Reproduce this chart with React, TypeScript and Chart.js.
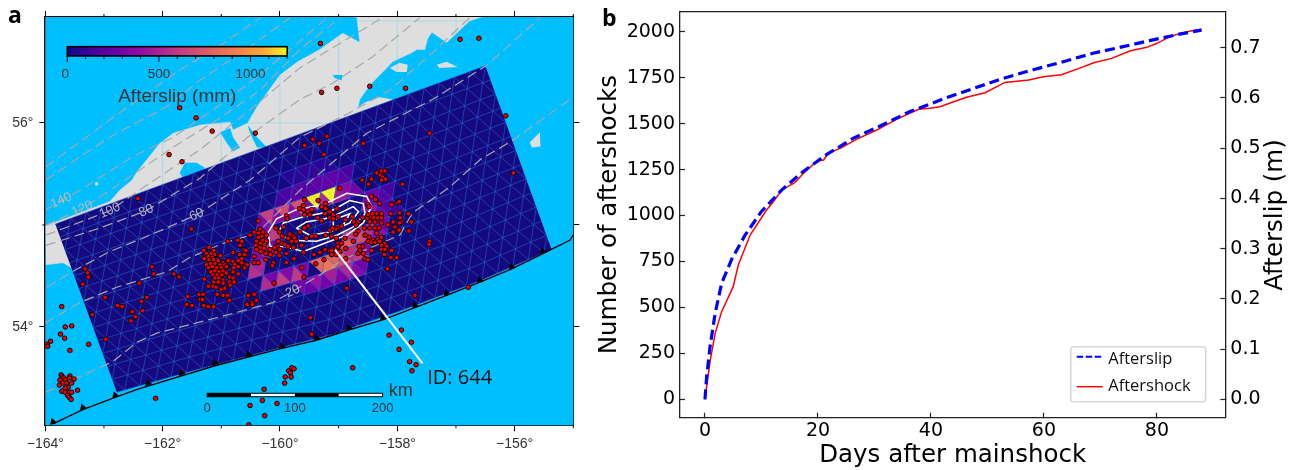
import React, { useEffect, useRef } from "react";
import { Chart, registerables } from "chart.js";

Chart.register(...registerables);

// ---------- Panel b data ----------
const afterslipDays = [0, 0.3, 0.9, 1.8, 2.95, 4.7, 7.1, 10, 13.6, 17.4, 21.5, 26.3, 31, 36.3, 43.4, 52.8, 58.1, 63.4, 68.7, 74, 78.7, 84, 87.9];
const afterslipMeters = [0, 0.045, 0.105, 0.171, 0.231, 0.278, 0.327, 0.374, 0.417, 0.4535, 0.487, 0.52, 0.544, 0.573, 0.603, 0.639, 0.656, 0.672, 0.689, 0.702, 0.714, 0.727, 0.735];
const aftershockDays = [0, 0.3, 0.9, 1.8, 2.95, 5, 5.9, 8, 10.9, 12.1, 13.6, 15.9, 17.4, 19.8, 21, 21.8, 24.2, 26.8, 30.4, 33.9, 37.8, 39.8, 41.6, 43.4, 46.3, 49.6, 53.1, 57.3, 59.9, 63.1, 66.7, 68.8, 72, 75.2, 78.2, 80, 82.3, 84.1, 86.2, 87.9];
const aftershockCounts = [0, 70, 205, 359, 477, 613, 731, 894, 1030, 1075, 1139, 1179, 1229, 1296, 1302, 1338, 1369, 1414, 1465, 1523, 1578, 1583, 1592, 1612, 1643, 1668, 1724, 1737, 1755, 1766, 1806, 1831, 1855, 1895, 1915, 1937, 1973, 1991, 2005, 2013];
const dayTicks = [0, 20, 40, 60, 80];
const countTicks = [0, 250, 500, 750, 1000, 1250, 1500, 1750, 2000];
const slipTicks = [0, 0.1, 0.2, 0.3, 0.4, 0.5, 0.6, 0.7];

// ---------- Panel a: axes ----------
const lonMajor = [-164, -162, -160, -158, -156];
const lonMinor = [-163, -161, -159, -157, -155];
const latLabelled = [54, 56];
const latAll = [54, 55, 56];
const graticuleLons = [-163, -162, -161, -160, -159, -158, -157, -156];
const graticuleLats = [54, 55, 56, 57];

// ---------- Panel a: coast (lon, lat) ----------
const land = [[-164, 54.99], [-162.9, 55.23], [-162.73, 55.34], [-162.52, 55.44], [-162.44, 55.52], [-162.27, 55.64], [-162.05, 55.8], [-161.82, 55.9], [-161.36, 55.98], [-160.85, 56.01], [-160.8, 55.93], [-160.55, 56], [-160.39, 56.16], [-160, 56.47], [-159.7, 56.6], [-159.32, 56.72], [-158.93, 56.88], [-158.64, 56.79], [-158.69, 57.04], [-156.56, 57.04], [-156.77, 57], [-156.88, 56.94], [-156.99, 56.88], [-157.16, 56.79], [-157.41, 56.89], [-157.48, 56.83], [-157.53, 56.72], [-157.67, 56.72], [-157.75, 56.69], [-158.08, 56.6], [-158.18, 56.54], [-158.3, 56.47], [-158.47, 56.37], [-158.64, 56.23], [-158.67, 56.15], [-158.55, 56.2], [-158.3, 56.25], [-158.09, 56.23], [-159.66, 55.25], [-163.55, 54.58], [-163.7, 54.63], [-163.99, 54.61], [-164, 54.61]];
const islandE = [[-155.74, 55.81], [-155.57, 55.91], [-155.56, 55.77], [-155.71, 55.76]];
const islandF = [[-157.33, 56.57], [-157.16, 56.6], [-156.97, 56.55], [-157.28, 56.54]];
const islandG = [[-158.13, 56.54], [-157.96, 56.59], [-157.82, 56.57], [-157.84, 56.5], [-158.01, 56.5]];
const islandH = [[-163.15, 55.42], [-163.1, 55.42], [-163.1, 55.39], [-163.15, 55.39]];
const lakeA = [[-161.71, 55.51], [-161.62, 55.61], [-161.42, 55.61], [-161.28, 55.56], [-161.33, 55.51], [-161.65, 55.46]];
const bayB = [[-161.02, 55.91], [-160.85, 55.95], [-160.8, 55.86], [-160.68, 55.76], [-160.8, 55.72], [-160.9, 55.8]];
const bayC = [[-160.55, 55.98], [-160.39, 55.86], [-160.22, 55.76], [-160.39, 55.76], [-160.51, 55.9]];
const bayD = [[-159.1, 56.47], [-158.93, 56.47], [-158.95, 56.42], [-159.07, 56.44]];

// ---------- Panel a: slab depth contours ----------
const depthLine180 = [[-163.99, 55.57], [-162.78, 56.08], [-161.76, 56.5], [-161.02, 56.76], [-160.34, 57.03]];
const depthLine160 = [[-163.99, 55.44], [-163.41, 55.67], [-162.78, 55.9], [-161.93, 56.16], [-161.36, 56.42], [-160.51, 56.75], [-159.83, 57.03]];
const depthLine140 = [[-163.99, 55.15], [-163.73, 55.24], [-163.41, 55.34], [-162.51, 55.67], [-161.82, 55.86], [-161.14, 56.13], [-160.34, 56.47], [-159.2, 57.03]];
const depthLine120 = [[-163.99, 55], [-163.37, 55.16], [-162.64, 55.44], [-161.88, 55.74], [-161.02, 56.05], [-160.34, 56.32], [-159.66, 56.72], [-158.98, 57.03]];
const depthLine100 = [[-163.99, 54.9], [-162.9, 55.14], [-162.22, 55.41], [-161.36, 55.74], [-160.51, 56.13], [-159.66, 56.54], [-158.98, 56.78], [-158.26, 57.03]];
const depthLine80 = [[-163.99, 54.8], [-163.07, 54.97], [-162.28, 55.14], [-161.36, 55.46], [-160.51, 55.88], [-159.66, 56.23], [-159.1, 56.39], [-158.42, 56.65], [-157.62, 57.03]];
const depthLine60 = [[-163.97, 54.39], [-163.58, 54.53], [-162.9, 54.74], [-162.34, 54.87], [-161.42, 55.1], [-160.51, 55.44], [-159.66, 55.86], [-158.81, 56.1], [-158.13, 56.32], [-157.4, 56.69], [-156.77, 57.03]];
const depthLine40 = [[-164, 54.04], [-163.41, 54.24], [-162.78, 54.39], [-161.93, 54.54], [-161.54, 54.68], [-160.97, 54.82], [-160.39, 54.92], [-159.66, 55.34], [-158.52, 55.9], [-157.4, 56.23], [-156.49, 56.56], [-155.57, 57.03]];
const depthLine20 = [[-164, 53.36], [-162.85, 53.66], [-162.44, 53.85], [-162.1, 53.94], [-161.08, 54.09], [-160.12, 54.24], [-159.78, 54.35], [-159.32, 54.51], [-158.93, 54.66], [-157.96, 54.9], [-157.74, 55.12], [-157.11, 55.37], [-156.59, 55.64], [-156.03, 55.83], [-155.01, 56.25]];
const depthLabels: [string, number, number][] = [["140", -163.73, 55.24], ["120", -163.37, 55.16], ["100", -162.9, 55.14], ["80", -162.28, 55.14], ["60", -161.42, 55.1], ["20", -159.78, 54.35]];

// ---------- Panel a: trench ----------
const trench = [[-163.87, 53.05], [-163.36, 53.19], [-162.81, 53.31], [-162.42, 53.39], [-161.11, 53.62], [-159.97, 53.79], [-159.38, 53.87], [-158.83, 53.97], [-158.25, 54.07], [-157.7, 54.19], [-157.16, 54.31], [-156.59, 54.44], [-156.05, 54.57], [-155.52, 54.72], [-155.06, 54.85], [-154.99, 54.91]];
const trenchTeeth = [[-163.87, 53.07], [-163.36, 53.21], [-162.81, 53.33], [-162.25, 53.45], [-161.68, 53.55], [-161.11, 53.65], [-160.54, 53.73], [-159.97, 53.81], [-159.38, 53.89], [-158.83, 53.99], [-158.25, 54.09], [-157.7, 54.21], [-157.16, 54.33], [-156.59, 54.46], [-156.05, 54.59], [-155.52, 54.74]];

// ---------- Panel a: fault plane and afterslip ----------
const planeTopLeft = [-163.83, 55.01];
const planeTopRight = [-156.5, 56.56];
const planeBottom = [[-162.78, 53.36], [-161.55, 53.56], [-160.31, 53.75], [-159.08, 53.93], [-157.84, 54.18], [-156.6, 54.45], [-155.37, 54.76]];
const meshColumns = 28;
const meshRows = 13;
const slipBandRows = [2, 3, 4, 5, 5, 6, 6, 7, 7, 8, 8, 9];
const slipBandStarts = [28, 26, 23, 23, 36, 21, 36, 20, 32, 21, 28, 25];
const slipBandValues = [
  [70, 80, 90, 90, 80, 70],
  [150, 170, 200, 210, 220, 230, 240, 230, 200, 160],
  [340, 640, 360, 700, 380, 720, 350, 1180, 520, 1200, 460, 380, 300],
  [340, 620],
  [330, 280, 210, 150],
  [340, 560, 460, 300],
  [420, 300, 200, 130],
  [560, 500],
  [760, 600, 700, 560, 400, 300],
  [540, 320, 620, 360, 600, 340],
  [820, 880, 800, 700, 560, 640, 350],
  [300, 260, 420, 300, 480, 320, 520, 380, 300],
];
const slipContourA = [[-160.17, 54.79], [-160.2, 54.93], [-160.06, 55.06], [-159.72, 55.15], [-159.26, 55.2], [-158.86, 55.31], [-158.52, 55.28], [-158.44, 55.18], [-158.58, 55.02], [-158.86, 54.9], [-159.15, 54.84], [-159.6, 54.74], [-159.94, 54.79], [-160.17, 54.79]];
const slipContourB = [[-160.03, 54.92], [-159.94, 55.02], [-159.6, 55.08], [-159.15, 55.13], [-158.81, 55.24], [-158.58, 55.21], [-158.55, 55.11], [-158.75, 54.98], [-159.03, 54.9], [-159.38, 54.84], [-159.83, 54.85], [-160.03, 54.92]];
const slipContourC = [[-159.72, 54.97], [-159.55, 55.03], [-159.15, 55.07], [-158.75, 55.18], [-158.66, 55.13], [-158.81, 55.02], [-159.15, 54.93], [-159.49, 54.9], [-159.72, 54.97]];
const slipContourD = [[-159.09, 55.05], [-158.81, 55.11], [-158.92, 55], [-159.09, 54.98], [-159.09, 55.05]];
const leaderLine = [[-159.06, 54.755], [-157.57, 53.644]];

// ---------- Panel a: aftershocks ----------
const aftershocksWest = [[-161.3,54.75],[-161.21,54.78],[-161.13,54.75],[-161.25,54.72],[-161.17,54.72],[-161.11,54.71],[-161.22,54.69],[-161.15,54.68],[-161.01,54.7],[-161.29,54.67],[-161.21,54.66],[-161.13,54.66],[-161.05,54.65],[-160.97,54.63],[-160.88,54.65],[-160.8,54.64],[-161.25,54.61],[-161.18,54.62],[-161.11,54.62],[-161.02,54.61],[-160.94,54.61],[-161.22,54.58],[-161.15,54.59],[-161.08,54.58],[-161,54.58],[-160.91,54.59],[-161.18,54.54],[-161.11,54.55],[-161.04,54.54],[-160.97,54.55],[-160.77,54.61],[-160.79,54.58],[-160.71,54.59],[-160.6,54.61],[-161.14,54.51],[-161.07,54.51],[-160.99,54.51],[-160.91,54.53],[-160.8,54.54],[-160.71,54.52],[-160.6,54.58],[-161.11,54.48],[-161.04,54.48],[-160.97,54.46],[-160.86,54.49],[-160.8,54.48],[-161.29,54.47],[-161.13,54.44],[-161.05,54.44],[-160.97,54.43],[-160.86,54.44],[-160.78,54.44],[-161.22,54.4],[-161.14,54.4],[-161.09,54.39],[-161,54.37],[-160.94,54.38],[-160.85,54.41],[-161.07,54.32],[-160.97,54.31],[-160.89,54.31],[-160.86,54.26],[-161.38,54.32],[-161.31,54.32],[-161.36,54.27],[-161.32,54.27],[-161.3,54.21],[-161.22,54.2],[-161.13,54.2],[-161.5,54.21]];
const aftershocksWestNorth = [[-160.44,54.93],[-160.34,54.96],[-160.29,54.93],[-160.37,54.92],[-160.31,54.89],[-160.23,54.9],[-160.37,54.88],[-160.29,54.85],[-160.23,54.84],[-160.4,54.84],[-160.33,54.82],[-160.26,54.81],[-160.41,54.8],[-160.34,54.78],[-160.27,54.77],[-160.17,54.76],[-160.33,54.74],[-160.24,54.72],[-160.16,54.71],[-160.4,54.76],[-160.51,54.9],[-160.89,54.84],[-160.72,54.85],[-160.65,54.84],[-160.68,54.8],[-160.61,54.76],[-160.58,54.75],[-160.8,54.73],[-160.69,54.71],[-160.6,54.71],[-160.65,54.67],[-160.71,54.65],[-160.65,54.63],[-160.56,54.61],[-160.44,54.69],[-160.44,54.63],[-160.37,54.63],[-160.24,54.66],[-160.11,54.63],[-160.13,54.6],[-160.05,54.79],[-160,54.76],[-160.07,54.73],[-160.01,54.7],[-160.1,54.43],[-160.54,54.31],[-160.44,54.32],[-160.4,54.26],[-160.48,54.24],[-160.56,54.22],[-160.47,54.22]];
const aftershocksCentral = [[-160.37,55.04],[-160.07,54.97],[-159.94,54.98],[-160.01,54.93],[-159.96,54.89],[-160.09,54.78],[-160.03,54.84],[-159.96,54.82],[-159.89,55.09],[-159.88,55.06],[-159.58,55.25],[-159.67,55.16],[-159.6,55.19],[-159.6,55.15],[-159.52,55.13],[-159.46,55.15],[-159.49,55.1],[-159.58,55.1],[-159.35,55.24],[-159.22,55.21],[-159.29,55.18],[-159.22,55.16],[-159.03,55.16],[-159.15,55.13],[-159.23,55.11],[-159.09,55.1],[-159.01,55.08],[-159.15,55.07],[-159.36,55.07],[-159.29,55.04],[-159.52,54.99],[-159.58,54.97],[-159.66,54.93],[-159.83,54.91],[-159.77,54.89],[-159.86,54.87],[-159.75,54.87],[-159.92,54.81],[-159.8,54.84],[-159.72,54.84],[-159.63,54.8],[-159.86,54.79],[-159.77,54.78],[-159.55,54.87],[-159.46,54.89],[-159.39,54.89],[-159.22,54.9],[-159.15,54.95],[-159.06,54.97],[-159.01,54.97],[-159.12,54.89],[-159.04,54.87],[-159.01,54.82],[-159.23,54.76],[-159.15,54.75],[-159.32,54.73],[-159.42,54.71],[-159.6,54.73],[-159.89,54.72],[-159.76,54.67],[-159.89,54.63],[-159.63,54.58],[-159.39,54.62],[-159.25,54.66],[-159.12,54.71],[-159.04,54.77],[-159.59,54.49]];
const aftershocksEast = [[-158.27,55.53],[-158.21,55.53],[-158.35,55.51],[-158.29,55.49],[-158.25,55.47],[-158.27,55.44],[-158.2,55.45],[-158.44,55.45],[-158.6,55.44],[-158.49,55.4],[-157.91,55.4],[-158.98,55.36],[-158.44,55.28],[-158.37,55.25],[-158.3,55.21],[-158.5,55.2],[-158.48,55.18],[-158.1,55.2],[-158,55.22],[-157.97,55.23],[-158.11,55.11],[-157.96,55.12],[-157.81,55.11],[-158.77,55.08],[-158.88,55.05],[-159.09,55.06],[-158.74,55.03],[-158.67,55.03],[-158.7,55],[-158.59,55.07],[-158.51,55.07],[-158.44,55.08],[-158.5,55.1],[-158.42,55.11],[-158.35,55.11],[-158.27,55.11],[-158.4,55.07],[-158.33,55.07],[-158.27,55.07],[-158.47,55.03],[-158.38,55.03],[-158.27,55.02],[-158.16,55],[-158.07,55.03],[-158.04,54.98],[-157.95,55.07],[-157.93,55.03],[-157.96,55.02],[-157.76,55.03],[-158.31,54.97],[-158.38,54.97],[-158.47,54.97],[-158.56,54.97],[-158.67,54.94],[-159.05,54.96],[-159.1,54.97],[-158.95,54.99],[-158.35,54.92],[-158.55,54.9],[-158.71,54.91],[-158.07,54.93],[-157.97,54.95],[-157.8,54.94],[-158.89,54.87],[-158.48,54.88],[-158.41,54.85],[-158.33,54.86],[-158.27,54.88],[-158.5,54.84],[-158.44,54.83],[-158.38,54.83],[-158.3,54.84],[-158.21,54.82],[-158.75,54.84],[-158.95,54.82],[-159.01,54.79],[-158.27,54.8],[-158.18,54.79],[-158.27,54.76],[-158.21,54.76],[-158.1,54.75],[-158.59,54.79],[-158.65,54.79],[-158.44,54.75],[-158.64,54.75],[-158.88,54.77],[-158.98,54.74],[-159.12,54.75],[-158.67,54.72],[-158.58,54.72],[-158.22,54.71],[-158.11,54.68],[-158.01,54.68],[-158.55,54.67],[-158.5,54.66],[-158.88,54.67],[-159.04,54.71],[-159.12,54.71],[-158.17,54.57],[-157.45,54.84],[-157.46,54.81]];
const aftershocksSparse = [[-161.71,56.15],[-161.43,56.05],[-161.155,55.92],[-160.42,55.9],[-161.89,55.69],[-161.67,55.62],[-162.42,55.26],[-161.51,54.96],[-159.31,56.78],[-156.93,56.82],[-156.61,56.83],[-159.29,56.3],[-159.03,56.34],[-158.47,56.36],[-157.86,56.34],[-156.15,56.07],[-157.45,55.9],[-159.44,55.84],[-159.2,55.87],[-159.33,55.8],[-159.58,55.78],[-158.58,55.8],[-159.25,55.69],[-156.02,55.51],[-163.32,54.57],[-163.28,54.53],[-163.26,54.49],[-163.36,54.42],[-162.18,54.59],[-162.15,54.52],[-161.81,54.52],[-161.72,54.49],[-162.4,54.43],[-162.98,54.29],[-162.27,54.29],[-162.36,54.25],[-162.77,54.21],[-162.69,54.2],[-162.52,54.15],[-162.34,54.16],[-162.46,54.1],[-162.54,54.06],[-163.2,54.12],[-163.72,54.2],[-163.66,54],[-163.55,54.01],[-163.74,53.93],[-163.67,53.89],[-163.91,53.86],[-163.97,53.83],[-163.96,53.81],[-163.26,53.83],[-162.97,53.88],[-163.58,53.77],[-161.57,54.3],[-161.59,54.22]];
const aftershocksSouth = [[-163.73,53.53],[-163.71,53.51],[-163.68,53.5],[-163.75,53.48],[-163.66,53.48],[-163.58,53.52],[-163.59,53.5],[-163.51,53.49],[-163.76,53.43],[-163.7,53.45],[-163.64,53.45],[-163.55,53.45],[-163.61,53.41],[-163.66,53.4],[-163.45,53.38],[-163.72,53.37],[-163.66,53.36],[-163.59,53.36],[-163.55,53.36],[-163.62,53.33],[-163.59,53.31],[-163.56,53.29],[-159.8,53.6],[-159.76,53.59],[-159.85,53.57],[-159.82,53.55],[-159.91,53.51],[-159.81,53.51],[-159.92,53.45],[-160.27,53.39],[-160.3,53.28],[-160.51,53.23],[-160.05,53.25],[-160.26,53.13],[-160.53,53.04],[-162.12,53.3],[-158.86,54.38],[-157.7,54.31],[-156.79,54.39],[-159.48,54.09],[-159.46,53.93],[-157.93,53.97],[-158.14,53.92],[-157.76,53.85],[-157.97,53.78],[-157.79,53.66],[-157.68,53.63],[-157.75,53.57],[-158.76,53.6]];

// ---------- Panel a: insets ----------
const colorbarTicks = [0, 100, 200, 300, 400, 500, 600, 700, 800, 900, 1000, 1100, 1200];
const colorbarLabels = [0, 500, 1000];
const scaleBarKm = [0, 50, 100, 150, 200];
const scaleBarLabels = [0, 100, 200];
const plasma = ["#0d0887", "#41049d", "#6a00a8", "#8f0da4", "#b12a90", "#cc4778", "#e16462", "#f1844b", "#fca636", "#f0f921"];

const OCEAN = "#00bfff";
const LAND = "#dedede";
const PLANE = "#14097f";

function hexToRgb(h: string) {
  return [parseInt(h.slice(1, 3), 16), parseInt(h.slice(3, 5), 16), parseInt(h.slice(5, 7), 16)];
}
function slipColor(v: number) {
  const f = (Math.min(v, 1200) / 1200) * (plasma.length - 1);
  const i = Math.min(Math.floor(f), plasma.length - 2);
  const a = hexToRgb(plasma[i]);
  const b = hexToRgb(plasma[i + 1]);
  const t = f - i;
  return `rgb(${a.map((c, k) => Math.round(c + (b[k] - c) * t)).join(",")})`;
}
function meshNode(col: number, row: number) {
  const t = col / meshColumns;
  const s = row / meshRows;
  const topLon = planeTopLeft[0] + (planeTopRight[0] - planeTopLeft[0]) * t;
  const topLat = planeTopLeft[1] + (planeTopRight[1] - planeTopLeft[1]) * t;
  const f = t * (planeBottom.length - 1);
  const i = Math.min(Math.floor(f), planeBottom.length - 2);
  const g = f - i;
  const botLon = planeBottom[i][0] + (planeBottom[i + 1][0] - planeBottom[i][0]) * g;
  const botLat = planeBottom[i][1] + (planeBottom[i + 1][1] - planeBottom[i][1]) * g;
  return { x: topLon + (botLon - topLon) * s, y: topLat + (botLat - topLat) * s };
}
function zigzag(k: number, band: number) {
  const lower = band % 2 === 0 ? k % 2 === 1 : k % 2 === 0;
  return meshNode(k / 2, lower ? band + 1 : band);
}
const pts = (a: number[][]) => a.map(([x, y]) => ({ x, y }));
function polygon(data: { x: number; y: number }[], color: string, border = 0) {
  return { data, showLine: true, fill: "shape", backgroundColor: color, borderColor: color, borderWidth: border, pointRadius: 0, tension: 0 };
}
function stroke(data: { x: number; y: number }[], color: string, width: number, dash: number[] = []) {
  return { data, showLine: true, fill: false, borderColor: color, borderWidth: width, borderDash: dash, pointRadius: 0, tension: 0 };
}

function buildMapDatasets() {
  const out: any[] = [];
  out.push(polygon(pts(land), LAND, 0.5));
  [islandE, islandF, islandG, islandH].forEach((p) => out.push(polygon(pts(p), LAND)));
  [lakeA, bayB, bayC, bayD].forEach((p) => out.push(polygon(pts(p), OCEAN)));
  const grat: any[] = [];
  graticuleLons.forEach((lon) => grat.push({ x: lon, y: 53 }, { x: lon, y: 57.1 }, { x: lon, y: NaN }));
  graticuleLats.forEach((lat) => grat.push({ x: -164, y: lat }, { x: -155, y: lat }, { x: NaN, y: lat }));
  out.push(stroke(grat, "rgba(0,191,255,0.2)", 1));
  const outline = [
    { x: planeTopLeft[0], y: planeTopLeft[1] },
    { x: planeTopRight[0], y: planeTopRight[1] },
    ...pts([...planeBottom].reverse()),
  ];
  out.push(polygon(outline, PLANE));
  slipBandRows.forEach((band, b) => {
    slipBandValues[b].forEach((v, n) => {
      const k = slipBandStarts[b] + n;
      const c = slipColor(v);
      out.push(polygon([zigzag(k, band), zigzag(k + 1, band), zigzag(k + 2, band)], c, 0.4));
    });
  });
  const mesh: any[] = [];
  for (let r = 0; r <= meshRows; r++) {
    for (let c = 0; c <= meshColumns; c += 0.5) mesh.push(meshNode(c, r));
    mesh.push({ x: NaN, y: NaN });
  }
  for (let b = 0; b < meshRows; b++) {
    for (let k = 0; k <= 2 * meshColumns; k++) mesh.push(zigzag(k, b));
    mesh.push({ x: NaN, y: NaN });
  }
  out.push(stroke(mesh, "rgba(45,105,215,0.6)", 0.9));
  [depthLine180, depthLine160, depthLine140, depthLine120, depthLine100, depthLine80, depthLine60, depthLine40, depthLine20].forEach((l) =>
    out.push(stroke(pts(l), "#a8a8a8", 1.2, [10, 5]))
  );
  out.push(stroke(pts(trench), "#000", 1.4));
  out.push({ data: pts(trenchTeeth), showLine: false, pointStyle: "triangle", pointRadius: 4.2, pointRotation: -18, backgroundColor: "#000", borderColor: "#000", borderWidth: 0 });
  [slipContourA, slipContourB, slipContourC, slipContourD].forEach((l) => out.push(stroke(pts(l), "#fff", 1.5)));
  [aftershocksWest, aftershocksWestNorth, aftershocksCentral, aftershocksEast, aftershocksSparse, aftershocksSouth].forEach((p) =>
    out.push({ data: pts(p), showLine: false, pointStyle: "circle", pointRadius: 2.3, backgroundColor: "#ee0000", borderColor: "#000", borderWidth: 0.9 })
  );
  out.push(stroke(pts(leaderLine), "#fff", 2));
  return out.reverse();
}

const mapDecor = {
  id: "mapDecor",
  beforeDatasetsDraw(chart: any) {
    const { ctx, chartArea: a } = chart;
    ctx.save();
    ctx.fillStyle = OCEAN;
    ctx.fillRect(a.left, a.top, a.right - a.left, a.bottom - a.top);
    ctx.restore();
  },
  afterDatasetsDraw(chart: any) {
    const { ctx, chartArea: a, scales } = chart;
    const X = (v: number) => scales.x.getPixelForValue(v);
    const Y = (v: number) => scales.y.getPixelForValue(v);
    ctx.save();
    // short ticks
    ctx.strokeStyle = "#000";
    ctx.lineWidth = 1;
    ctx.beginPath();
    lonMinor.forEach((l) => {
      ctx.moveTo(X(l), a.top);
      ctx.lineTo(X(l), a.top - 3);
      ctx.moveTo(X(l), a.bottom);
      ctx.lineTo(X(l), a.bottom + 3);
    });
    ctx.moveTo(a.left, Y(55));
    ctx.lineTo(a.left - 3, Y(55));
    ctx.stroke();
    // depth labels
    ctx.fillStyle = "rgba(190,190,190,0.95)";
    ctx.font = '13px "Liberation Sans"';
    ctx.textAlign = "center";
    ctx.textBaseline = "middle";
    depthLabels.forEach(([t, lon, lat]) => {
      ctx.save();
      ctx.translate(X(lon), Y(lat));
      ctx.rotate((-24 * Math.PI) / 180);
      ctx.fillText(t, 0, 0);
      ctx.restore();
    });
    // colour bar
    const cbL = X(-163.625), cbR = X(-159.877), cbT = Y(56.748), cbB = Y(56.657);
    const g = ctx.createLinearGradient(cbL, 0, cbR, 0);
    plasma.forEach((c, i) => g.addColorStop(i / (plasma.length - 1), c));
    ctx.fillStyle = g;
    ctx.fillRect(cbL, cbT, cbR - cbL, cbB - cbT);
    ctx.strokeStyle = "#000";
    ctx.lineWidth = 1.6;
    ctx.strokeRect(cbL, cbT, cbR - cbL, cbB - cbT);
    ctx.lineWidth = 1;
    ctx.beginPath();
    colorbarTicks.forEach((v) => {
      const x = cbL + ((cbR - cbL) * v) / 1200;
      ctx.moveTo(x, cbB);
      ctx.lineTo(x, cbB + (v % 500 === 0 ? 6 : 3));
    });
    ctx.stroke();
    ctx.fillStyle = "#333";
    ctx.font = '13.5px "Liberation Sans"';
    colorbarLabels.forEach((v) => ctx.fillText(String(v), cbL + ((cbR - cbL) * v) / 1200 - (v === 0 ? 2 : 0), cbB + 18));
    ctx.font = '19px "Liberation Sans"';
    ctx.fillText("Afterslip (mm)", cbL + 110, cbB + 41);
    // ID label
    ctx.fillStyle = "#111";
    ctx.font = '20px "Open Sans"';
    ctx.textAlign = "left";
    ctx.textBaseline = "alphabetic";
    ctx.fillText("ID: 644", X(-157.49), Y(53.44));
    // scale bar
    const sbL = X(-161.24), sbR = X(-158.25), sbT = Y(53.35), sbB = Y(53.316);
    const kmX = (km: number) => sbL + ((sbR - sbL) * km) / 200;
    for (let i = 0; i < scaleBarKm.length - 1; i++) {
      ctx.fillStyle = i % 2 === 0 ? "#000" : "#fff";
      ctx.fillRect(kmX(scaleBarKm[i]), sbT, kmX(scaleBarKm[i + 1]) - kmX(scaleBarKm[i]), sbB - sbT);
    }
    ctx.strokeStyle = "#000";
    ctx.lineWidth = 1;
    ctx.strokeRect(sbL, sbT, sbR - sbL, sbB - sbT);
    ctx.fillStyle = "#333";
    ctx.font = '13px "Liberation Sans"';
    ctx.textAlign = "center";
    ctx.textBaseline = "middle";
    scaleBarLabels.forEach((km) => ctx.fillText(String(km), kmX(km), sbB + 12));
    ctx.font = '18px "Liberation Sans"';
    ctx.fillText("km", sbR + 18, sbT - 2);
    // panel letter
    ctx.fillStyle = "#000";
    ctx.font = 'bold 23px "Open Sans"';
    ctx.textAlign = "left";
    ctx.textBaseline = "alphabetic";
    ctx.fillText("a", 8, 23);
    ctx.restore();
  },
};

const curveDecor = {
  id: "curveDecor",
  afterDraw(chart: any) {
    const { ctx } = chart;
    ctx.save();
    // right axis title
    ctx.fillStyle = "#000";
    ctx.font = '24.5px "DejaVu Sans"';
    ctx.textAlign = "center";
    ctx.textBaseline = "middle";
    ctx.save();
    ctx.translate(681, 215);
    ctx.rotate(-Math.PI / 2);
    ctx.fillText("Afterslip (m)", 0, 0);
    ctx.restore();
    // legend box
    const lx = 475.7, ly = 346.7, lw = 135, lh = 55;
    ctx.strokeStyle = "#d8d8d8";
    ctx.lineWidth = 1.6;
    ctx.fillStyle = "#fff";
    ctx.beginPath();
    ctx.roundRect(lx, ly, lw, lh, 3);
    ctx.fill();
    ctx.stroke();
    ctx.strokeStyle = "#0000ff";
    ctx.lineWidth = 2;
    ctx.setLineDash([6.5, 2.5]);
    ctx.beginPath();
    ctx.moveTo(lx + 6, ly + 10);
    ctx.lineTo(lx + 32, ly + 10);
    ctx.stroke();
    ctx.setLineDash([]);
    ctx.strokeStyle = "#ff0000";
    ctx.lineWidth = 1.5;
    ctx.beginPath();
    ctx.moveTo(lx + 6, ly + 40);
    ctx.lineTo(lx + 32, ly + 40);
    ctx.stroke();
    ctx.fillStyle = "#111";
    ctx.font = '16.5px "Open Sans"';
    ctx.textAlign = "left";
    ctx.fillText("Afterslip", lx + 37.5, ly + 13);
    ctx.fillText("Aftershock", lx + 37.5, ly + 40);
    // panel letter
    ctx.fillStyle = "#000";
    ctx.font = 'bold 23px "Open Sans"';
    ctx.fillText("b", 7, 19);
    ctx.restore();
  },
};

const setTicks = (values: number[]) => (scale: any) => {
  scale.ticks = values.map((value) => ({ value }));
};
const noPad = (s: any) => {
  s.paddingTop = 0;
  s.paddingBottom = 0;
  s.paddingLeft = 0;
  s.paddingRight = 0;
};
const setWidth = (w: number) => (s: any) => { s.width = w; noPad(s); };
const setHeight = (h: number) => (s: any) => { s.height = h; noPad(s); };

export default function App() {
  const mapRef = useRef<HTMLCanvasElement>(null);
  const curveRef = useRef<HTMLCanvasElement>(null);

  useEffect(() => {
    const mapTickFont = { family: '"Liberation Sans"', size: 14 };
    const frame = { color: "#000", width: 2 };
    const noGrid = { drawOnChartArea: false, color: "#000", tickColor: "#000", tickWidth: 1, tickLength: 6 };
    const mapChart = new Chart(mapRef.current as HTMLCanvasElement, {
      type: "scatter",
      data: { datasets: buildMapDatasets() },
      options: {
        animation: false,
        responsive: false,
        events: [],
        layout: { padding: 0 },
        plugins: { legend: { display: false }, tooltip: { enabled: false } },
        scales: {
          x: {
            type: "linear", position: "bottom", min: -164, max: -155, border: frame, grid: noGrid,
            afterBuildTicks: setTicks(lonMajor), afterFit: setHeight(44.7),
            ticks: { color: "#333", font: mapTickFont, padding: 4, maxRotation: 0, autoSkip: false, callback: (v: any) => `\u2212${Math.abs(v)}\u00b0` },
          },
          x2: {
            type: "linear", position: "top", min: -164, max: -155, border: { color: "#000", width: 1.4 }, grid: noGrid,
            afterBuildTicks: setTicks(lonMajor), afterFit: setHeight(17), ticks: { display: false },
          },
          y: {
            type: "linear", position: "left", min: 53.036, max: 57.039, border: frame, grid: noGrid,
            afterBuildTicks: setTicks(latLabelled), afterFit: setWidth(45.3),
            ticks: { color: "#333", font: mapTickFont, padding: 6, autoSkip: false, callback: (v: any) => `${v}\u00b0` },
          },
          y2: {
            type: "linear", position: "right", min: 53.036, max: 57.039, border: frame, grid: noGrid,
            afterBuildTicks: setTicks(latAll), afterFit: setWidth(26.7), ticks: { display: false },
          },
        },
      } as any,
      plugins: [mapDecor],
    } as any);

    const curveFont = { family: '"DejaVu Sans"', size: 19 };
    const titleFont = { family: '"DejaVu Sans"', size: 24.5 };
    const inward = { drawOnChartArea: false, tickColor: "#222", tickWidth: 1.2, tickLength: -5 };
    const curveBorder = { color: "#222", width: 1.3 };
    const curveChart = new Chart(curveRef.current as HTMLCanvasElement, {
      type: "scatter",
      data: {
        datasets: [
          {
            data: afterslipDays.map((x, i) => ({ x, y: afterslipMeters[i] })), yAxisID: "y1", showLine: true, tension: 0,
            borderColor: "#0000ff", borderWidth: 3.2, borderDash: [10, 5], pointRadius: 0, fill: false,
          },
          {
            data: aftershockDays.map((x, i) => ({ x, y: aftershockCounts[i] })), yAxisID: "y", showLine: true, tension: 0,
            borderColor: "#ff0000", borderWidth: 1.5, pointRadius: 0, fill: false,
          },
        ],
      },
      options: {
        animation: false,
        responsive: false,
        events: [],
        layout: { padding: 0 },
        plugins: { legend: { display: false }, tooltip: { enabled: false } },
        scales: {
          x: {
            type: "linear", position: "bottom", min: -4.42, max: 92.1, border: curveBorder, grid: inward,
            afterBuildTicks: setTicks(dayTicks), afterFit: setHeight(52.3),
            ticks: { color: "#000", font: curveFont, padding: 7, maxRotation: 0, autoSkip: false },
            title: { display: true, text: "Days after mainshock", color: "#000", font: titleFont, padding: 0 },
          },
          xTop: {
            type: "linear", position: "top", min: -4.42, max: 92.1, border: curveBorder,
            grid: { drawOnChartArea: false, drawTicks: false },
            afterBuildTicks: setTicks([]), afterFit: setHeight(11.5), ticks: { display: false },
          },
          y: {
            type: "linear", position: "left", min: -100, max: 2110, border: curveBorder, grid: inward,
            afterBuildTicks: setTicks(countTicks), afterFit: setWidth(85),
            ticks: { color: "#000", font: curveFont, padding: 10, autoSkip: false, callback: (v: any) => String(v) },
            title: { display: true, text: "Number of aftershocks", color: "#000", font: titleFont, padding: 0 },
          },
          y1: {
            type: "linear", position: "right", min: -0.0366, max: 0.772, border: curveBorder, grid: inward,
            afterBuildTicks: setTicks(slipTicks), afterFit: setWidth(71.7),
            ticks: { color: "#000", font: curveFont, padding: 10, autoSkip: false, callback: (v: any) => Number(v).toFixed(1) },
          },
        },
      } as any,
      plugins: [curveDecor],
    } as any);

    return () => {
      mapChart.destroy();
      curveChart.destroy();
    };
  }, []);

  return (
    <div style={{ position: "absolute", left: 0, top: 0, width: 1297, height: 470, background: "#fff", overflow: "hidden" }}>
      <canvas ref={mapRef} width={600} height={470} style={{ position: "absolute", left: 0, top: 0, display: "block" }} />
      <canvas ref={curveRef} width={702} height={470} style={{ position: "absolute", left: 595, top: 0, display: "block" }} />
    </div>
  );
}
